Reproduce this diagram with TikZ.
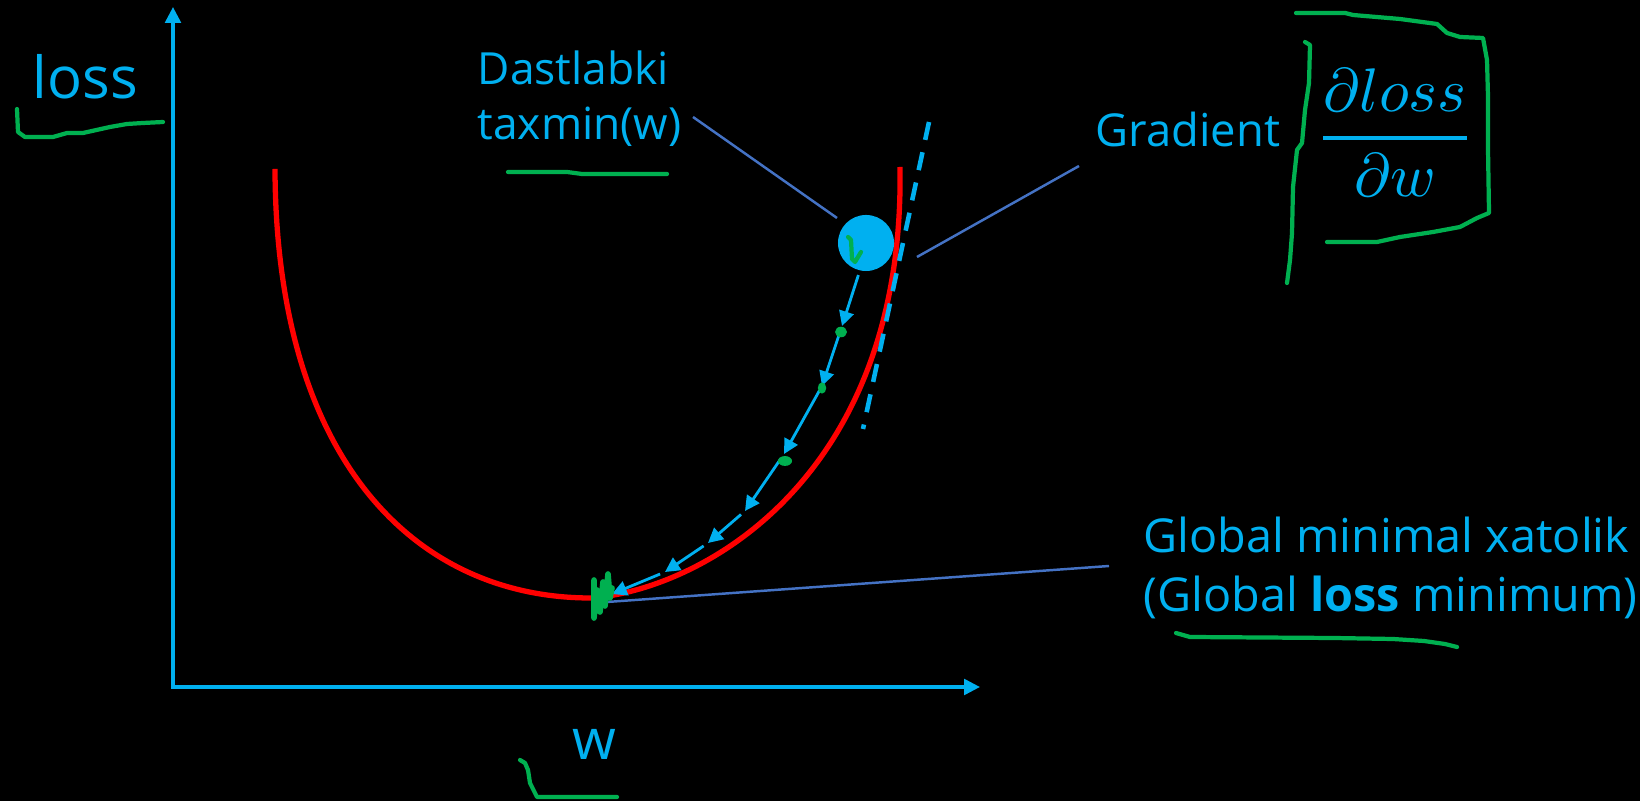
\documentclass[tikz,border=0pt]{standalone}
\usepackage{amsmath}
\usepackage{fontspec}
\setmainfont{Open Sans}
\usetikzlibrary{arrows.meta}
\definecolor{skyb}{HTML}{00B0F0}
\definecolor{lossred}{HTML}{FF0000}
\definecolor{pen}{HTML}{00B050}
\definecolor{leader}{HTML}{4472C4}
\begin{document}
\begin{tikzpicture}[x=0.01cm,y=-0.01cm,
  lbl/.style={text=skyb, inner sep=0, anchor=base west},
  axisline/.style={draw=skyb, line width=1pt, {Triangle[length=4.5pt,width=4.4pt]}-{Triangle[length=4.5pt,width=4.4pt]}},
  stepar/.style={draw=skyb, line width=0.8pt, -{Triangle[length=4.2pt,width=4.2pt]}, shorten <=1.5pt},
  lead/.style={draw=leader, line width=0.7pt},
  curve/.style={draw=lossred, line width=1.5pt},
  tang/.style={draw=skyb, line width=1.3pt, dash pattern=on 5.2pt off 3.6pt},
  penline/.style={draw=pen, line width=1.2pt, line cap=round, line join=round}]
\fill[black] (0,0) rectangle (1640,801);
\useasboundingbox (0,0) rectangle (1640,801);

% axes
\coordinate (O) at (173,687);
\coordinate (ytip) at (173,7);
\coordinate (xtip) at (980,687);
\draw[axisline] (ytip) -- (O) -- (xtip);

% loss curve
\coordinate (cL) at (275,169);
\coordinate (cM) at (591,598);
\coordinate (cR) at (900,167);
\draw[curve] (cL) .. controls (276,460) and (415,598) .. (cM)
                  .. controls (700,590) and (905,480) .. (cR);

% tangent
\coordinate (tA) at (929,122);
\coordinate (tB) at (863,429);
\draw[tang] (tA) -- (tB);

% leader lines
\coordinate (l1a) at (693,117);
\coordinate (l1b) at (837,218);
\coordinate (l2a) at (1079,166);
\coordinate (l2b) at (917,257);
\coordinate (l3a) at (1109,566);
\coordinate (l3b) at (607,602);
\draw[lead] (l1a) -- (l1b);
\draw[lead] (l2a) -- (l2b);
\draw[lead] (l3a) -- (l3b);

% initial guess
\node[circle, fill=skyb, inner sep=0, minimum size=0.56cm] (start) at (866,243) {};

% descent steps
\coordinate (P0) at (860,270);
\coordinate (P1) at (842,326);
\coordinate (P2) at (822,386);
\coordinate (P3) at (784,454);
\coordinate (P4) at (745,511);
\coordinate (P5) at (708,543);
\coordinate (P6) at (665,572);
\coordinate (P7) at (612,594);
\draw[stepar] (P0) -- (P1);
\draw[stepar] (P1) -- (P2);
\draw[stepar] (P2) -- (P3);
\draw[stepar] (P3) -- (P4);
\draw[stepar] (P4) -- (P5);
\draw[stepar] (P5) -- (P6);
\draw[stepar] (P6) -- (P7);

% green pen marks
\draw[penline] (17,109) -- (18,132) -- (25,137) -- (53,137) -- (67,133) -- (83,133) -- (110,127) -- (127,124) -- (143,123) -- (163,122);
\draw[penline] (508,172) -- (567,172) -- (582,174) -- (667,174);
\draw[penline] (1305,42) -- (1310,45) -- (1309,83) -- (1305,110) -- (1302,143) -- (1297,150) -- (1293,187) -- (1292,233) -- (1290,260) -- (1287,283);
\draw[penline] (1296,13) -- (1345,13) -- (1353,15) -- (1400,19) -- (1437,24) -- (1447,33) -- (1460,37) -- (1483,38) -- (1487,60) -- (1488,97) -- (1488,150) -- (1489,213) -- (1477,218) -- (1460,227) -- (1433,232) -- (1400,237) -- (1377,242) -- (1327,242);
\draw[penline] (1176,633) -- (1190,637) -- (1334,638) -- (1393,639) -- (1424,641) -- (1445,644) -- (1457,647);
\draw[penline] (520,760) -- (525,763) -- (528,770) -- (530,783) -- (537,797) -- (617,797);
\draw[penline] (848,237) -- (851,240) -- (852,259) -- (855,262) -- (861,252);
\fill[pen] (841,332) ellipse[x radius=1.7pt, y radius=1.5pt];
\fill[pen] (822,388) ellipse[x radius=1.2pt, y radius=1.6pt];
\fill[pen] (785,461) ellipse[x radius=2pt, y radius=1.4pt];
\draw[penline, line width=1.6pt] (594,580) -- (594,618) -- (597,590) -- (600,612) -- (603,582) -- (605,606) -- (608,574) -- (610,598) -- (612,588);

% texts
\node[lbl] (ylab) at (32,99) {\fontsize{16.5}{19}\selectfont loss};
\node[lbl] (xlab) at (572,760) {\fontsize{16}{19}\selectfont w};
\node[lbl] (dastA) at (477,85) {\fontsize{12.6}{15}\selectfont Dastlabki};
\node[lbl] (dastB) at (477,140) {\fontsize{12.6}{15}\selectfont taxmin(w)};
\node[lbl] (grad) at (1095,147) {\fontsize{12.9}{15}\selectfont Gradient};
\node[text=skyb, inner sep=0] (frac) at (1395,133) {\scalebox{1.75}{$\genfrac{}{}{0.75pt}{0}{\partial loss}{\partial w}$}};
\node[lbl] (globA) at (1143,553) {\fontsize{13.3}{16}\selectfont Global minimal xatolik};
\node[lbl] (globB) at (1143,612) {\fontsize{13.3}{16}\selectfont (Global \textbf{loss} minimum)};
\end{tikzpicture}
\end{document}
